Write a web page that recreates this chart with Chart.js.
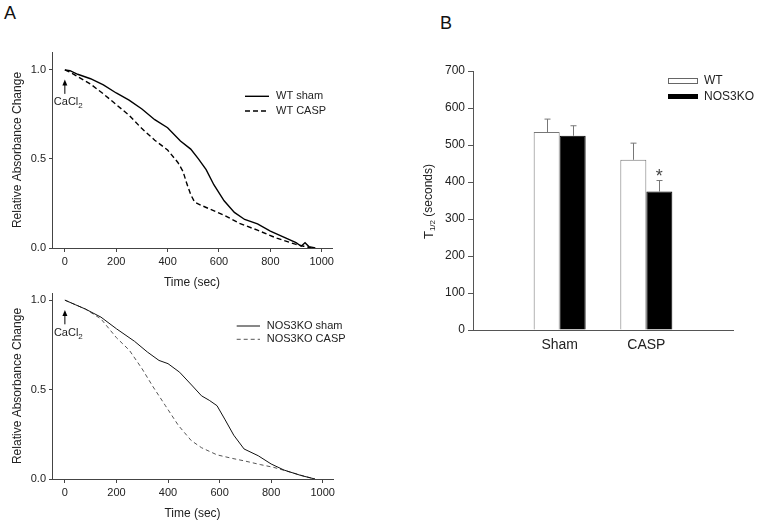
<!DOCTYPE html>
<html>
<head>
<meta charset="utf-8">
<script src="https://cdn.jsdelivr.net/npm/chart.js@4/dist/chart.umd.min.js"></script>
<style>
body{margin:0;background:#fff;width:762px;height:524px;position:relative;overflow:hidden;font-family:'Liberation Sans',Arial,sans-serif}
canvas{position:absolute}
.lab{position:absolute;font-size:18px;line-height:normal;color:#111}
</style>
</head>
<body>
<div class="lab" style="left:4px;top:3px">A</div>
<div class="lab" style="left:440px;top:13px">B</div>
<canvas id="c1" width="380" height="252" style="left:0;top:40px"></canvas>
<canvas id="c2" width="380" height="241" style="left:0;top:282px"></canvas>
<canvas id="c3" width="342" height="330" style="left:420px;top:40px"></canvas>
<script>
var FONT = "'Liberation Sans', Arial, sans-serif";
Chart.defaults.font.family = FONT;
Chart.defaults.color = '#222';

// panel A, top: WT
var wtShamT = [0, 20, 50, 100, 150, 200, 250, 300, 350, 400, 450, 490, 520, 550, 580, 620, 660, 700, 750, 800, 850, 900, 920, 935, 950, 975];
var wtShamV = [1.0, 0.995, 0.975, 0.95, 0.915, 0.87, 0.83, 0.78, 0.72, 0.675, 0.6, 0.555, 0.5, 0.44, 0.355, 0.265, 0.2, 0.16, 0.135, 0.095, 0.063, 0.03, 0.01, 0.03, 0.008, 0];
var wtCaspT = [0, 15, 35, 100, 150, 200, 250, 300, 350, 400, 440, 460, 475, 490, 505, 530, 570, 620, 680, 750, 825, 900, 930, 960];
var wtCaspV = [1.0, 0.99, 0.975, 0.92, 0.865, 0.805, 0.745, 0.67, 0.605, 0.55, 0.48, 0.43, 0.36, 0.3, 0.258, 0.24, 0.215, 0.184, 0.138, 0.1, 0.055, 0.02, 0.01, 0];

// panel A, bottom: NOS3KO
var koShamT = [0, 40, 80, 140, 200, 270, 320, 365, 400, 445, 495, 530, 560, 590, 620, 655, 695, 750, 800, 850, 915, 970];
var koShamV = [1.0, 0.975, 0.95, 0.905, 0.84, 0.77, 0.71, 0.663, 0.645, 0.597, 0.52, 0.465, 0.44, 0.41, 0.335, 0.245, 0.168, 0.13, 0.084, 0.05, 0.02, 0];
var koCaspT = [0, 40, 80, 140, 200, 250, 300, 340, 390, 440, 490, 530, 590, 650, 700, 760, 810, 875, 930, 970];
var koCaspV = [1.0, 0.975, 0.95, 0.895, 0.79, 0.72, 0.615, 0.52, 0.41, 0.3, 0.215, 0.175, 0.135, 0.115, 0.1, 0.08, 0.065, 0.038, 0.015, 0];

// panel B
var barCats = ['', 'Sham', 'CASP', ''];
var wtMean = [null, 535, 460, null];
var wtErr = [null, 35, 45, null];
var koMean = [null, 525, 374, null];
var koErr = [null, 27, 30, null];

function pts(t, v) {
  return t.map(function(x, i) { return {x: x, y: v[i]}; });
}

// arrow, CaCl2 note and the little legend inside the curve plots
var noteA = {
  id: 'noteA',
  afterDraw: function(chart, args, o) {
    var ctx = chart.ctx, a = chart.chartArea;
    var xs = chart.scales.x, ys = chart.scales.y;
    ctx.save();
    var ax = xs.getPixelForValue(0);
    var tip = ys.getPixelForValue(0.945), base = ys.getPixelForValue(0.865);
    ctx.strokeStyle = '#000';
    ctx.lineWidth = 1;
    ctx.beginPath(); ctx.moveTo(ax, base); ctx.lineTo(ax, tip + 4); ctx.stroke();
    ctx.fillStyle = '#000';
    ctx.beginPath(); ctx.moveTo(ax, tip); ctx.lineTo(ax - 2.5, tip + 6); ctx.lineTo(ax + 2.5, tip + 6); ctx.closePath(); ctx.fill();

    var ty = ys.getPixelForValue(0.818);
    var tx = ax - 11;
    ctx.fillStyle = '#222';
    ctx.textAlign = 'left';
    ctx.textBaseline = 'middle';
    ctx.font = '11px ' + FONT;
    ctx.fillText('CaCl', tx, ty);
    var w = ctx.measureText('CaCl').width;
    ctx.font = '8px ' + FONT;
    ctx.fillText('2', tx + w, ty + 4);

    chart.data.datasets.forEach(function(ds, i) {
      var y = a.top + o.y[i];
      ctx.strokeStyle = ds.borderColor;
      ctx.lineWidth = ds.borderWidth;
      ctx.setLineDash(ds.borderDash || []);
      ctx.beginPath(); ctx.moveTo(a.left + o.x0, y); ctx.lineTo(a.left + o.x1, y); ctx.stroke();
      ctx.setLineDash([]);
      ctx.font = '11px ' + FONT;
      ctx.fillStyle = '#222';
      ctx.fillText(ds.label, a.left + o.tx, y);
    });
    ctx.restore();
  }
};

function axesA(yMax) {
  return {
    x: {
      type: 'linear', min: -50, max: 1040,
      border: {color: '#444'},
      grid: {drawOnChartArea: false, drawTicks: true, tickLength: 4, color: '#444'},
      ticks: {stepSize: 200, includeBounds: false, padding: 3, maxRotation: 0, font: {size: 11},
        callback: function(v) { return String(v); }},
      title: {display: true, text: 'Time (sec)', font: {size: 12}, padding: {top: 0, bottom: 2}},
      afterFit: function(s) { s.height = 44; }
    },
    y: {
      min: 0, max: yMax,
      border: {color: '#444'},
      grid: {drawOnChartArea: false, drawTicks: true, tickLength: 3, color: '#444'},
      ticks: {stepSize: 0.5, includeBounds: false, padding: 3, font: {size: 11},
        callback: function(v) { return v.toFixed(1); }},
      title: {display: true, text: 'Relative Absorbance Change', font: {size: 12}, padding: {top: 10, bottom: 0}},
      afterFit: function(s) { s.width = 52; }
    }
  };
}

new Chart(document.getElementById('c1'), {
  type: 'line',
  data: {
    datasets: [
      {label: 'WT sham', data: pts(wtShamT, wtShamV), borderColor: '#000', borderWidth: 1.4, pointRadius: 0, fill: false},
      {label: 'WT CASP', data: pts(wtCaspT, wtCaspV), borderColor: '#000', borderWidth: 1.4, borderDash: [5, 3], pointRadius: 0, fill: false}
    ]
  },
  options: {
    responsive: false, animation: false, events: [],
    layout: {padding: {top: 12, right: 48, left: 0, bottom: 0}},
    scales: axesA(1.1),
    plugins: {legend: {display: false}, tooltip: {enabled: false},
      noteA: {x0: 193, x1: 217, tx: 224, y: [44.3, 59]}}
  },
  plugins: [noteA]
});

new Chart(document.getElementById('c2'), {
  type: 'line',
  data: {
    datasets: [
      {label: 'NOS3KO sham', data: pts(koShamT, koShamV), borderColor: '#111', borderWidth: 1, pointRadius: 0, fill: false},
      {label: 'NOS3KO CASP', data: pts(koCaspT, koCaspV), borderColor: '#555', borderWidth: 1, borderDash: [4, 3], pointRadius: 0, fill: false}
    ]
  },
  options: {
    responsive: false, animation: false, events: [],
    layout: {padding: {top: 11, right: 47, left: 0, bottom: 0}},
    scales: axesA(1.04),
    plugins: {legend: {display: false}, tooltip: {enabled: false},
      noteA: {x0: 184.7, x1: 208, tx: 214.7, y: [33, 46.3]}}
  },
  plugins: [noteA]
});

// error bars, asterisk, legend and the T1/2 title for panel B
var extrasB = {
  id: 'extrasB',
  afterDatasetsDraw: function(chart) {
    var ctx = chart.ctx, ys = chart.scales.y, a = chart.chartArea;
    ctx.save();
    ctx.strokeStyle = '#777';
    ctx.lineWidth = 1;
    chart.data.datasets.forEach(function(ds, i) {
      var meta = chart.getDatasetMeta(i);
      meta.data.forEach(function(bar, j) {
        if (ds.data[j] == null) return;
        var top = ys.getPixelForValue(ds.data[j] + ds.err[j]);
        var x = Math.round(bar.x) + 0.5;
        ctx.beginPath();
        ctx.moveTo(x, bar.y); ctx.lineTo(x, top);
        ctx.moveTo(x - 3, top); ctx.lineTo(x + 3, top);
        ctx.stroke();
      });
    });
    // significance mark on NOS3KO CASP
    var kb = chart.getDatasetMeta(1).data[2];
    ctx.fillStyle = '#444';
    ctx.font = '18px ' + FONT;
    ctx.textAlign = 'center';
    ctx.textBaseline = 'alphabetic';
    ctx.fillText('*', kb.x, ys.getPixelForValue(koMean[2] + koErr[2]) + 1);

    // legend
    ctx.fillStyle = '#fff';
    ctx.strokeStyle = '#666';
    ctx.fillRect(a.left + 195, a.top + 7, 29, 5);
    ctx.strokeRect(a.left + 195.5, a.top + 7.5, 29, 5);
    ctx.fillStyle = '#000';
    ctx.fillRect(a.left + 195, a.top + 23, 30, 5);
    ctx.fillStyle = '#222';
    ctx.font = '12px ' + FONT;
    ctx.textAlign = 'left';
    ctx.textBaseline = 'middle';
    ctx.fillText('WT', a.left + 231, a.top + 9.5);
    ctx.fillText('NOS3KO', a.left + 231, a.top + 25.5);

    // y title with subscript
    ctx.translate(9, (a.top + a.bottom) / 2 + 1);
    ctx.rotate(-Math.PI / 2);
    ctx.font = '13px ' + FONT;
    var w1 = ctx.measureText('T').width;
    ctx.font = '8px ' + FONT;
    var w2 = ctx.measureText('1/2').width;
    ctx.font = '12px ' + FONT;
    var w3 = ctx.measureText(' (seconds)').width;
    var sx = -(w1 + w2 + w3) / 2;
    ctx.font = '13px ' + FONT;
    ctx.fillText('T', sx, 0);
    ctx.font = '8px ' + FONT;
    ctx.fillText('1/2', sx + w1, 4);
    ctx.font = '12px ' + FONT;
    ctx.fillText(' (seconds)', sx + w1 + w2, 0);
    ctx.restore();
  }
};

new Chart(document.getElementById('c3'), {
  type: 'bar',
  data: {
    labels: barCats,
    datasets: [
      {label: 'WT', data: wtMean, err: wtErr, backgroundColor: '#fff', borderColor: '#777', borderWidth: 1},
      {label: 'NOS3KO', data: koMean, err: koErr, backgroundColor: '#000', borderColor: '#000', borderWidth: 1}
    ]
  },
  options: {
    responsive: false, animation: false, events: [],
    categoryPercentage: 0.6, barPercentage: 1.0,
    layout: {padding: {top: 31, right: 29, left: 0, bottom: 0}},
    scales: {
      x: {
        offset: false,
        border: {color: '#555'},
        grid: {display: false, drawTicks: false},
        ticks: {padding: 7, autoSkip: false, maxRotation: 0, font: {size: 14}},
        afterFit: function(s) { s.height = 40; }
      },
      y: {
        min: 0, max: 700,
        border: {color: '#555'},
        grid: {drawOnChartArea: false, drawTicks: true, tickLength: 5, color: '#555'},
        ticks: {stepSize: 100, padding: 3, font: {size: 12}},
        afterFit: function(s) { s.width = 53; }
      }
    },
    plugins: {legend: {display: false}, tooltip: {enabled: false}}
  },
  plugins: [extrasB]
});
</script>
</body>
</html>
